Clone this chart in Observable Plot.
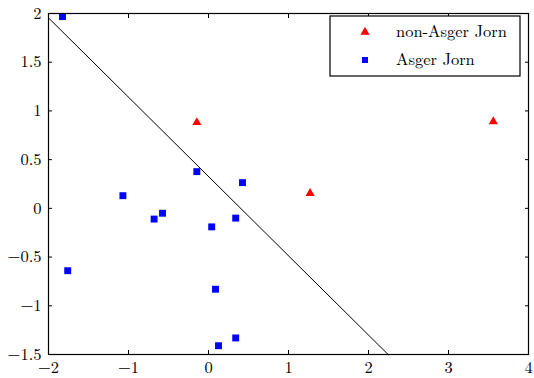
<!DOCTYPE html>
<html><head><meta charset="utf-8">
<script src="https://cdn.jsdelivr.net/npm/d3@7"></script>
<script src="https://cdn.jsdelivr.net/npm/@observablehq/plot@0.6"></script>
<style>
body{margin:0;background:#fff;}
#wrap{position:relative;width:534px;height:378px;}
#wrap svg text{font-family:'Latin Modern Roman','Liberation Serif',serif;}
</style></head><body><div id="wrap"></div>
<script>
const xTicks = [-2, -1, 0, 1, 2, 3, 4];
const xTickLabels = ["−2", "−1", "0", "1", "2", "3", "4"];
const yTicks = [-1.5, -1, -0.5, 0, 0.5, 1, 1.5, 2];
const yTickLabels = ["−1.5", "−1", "−0.5", "0", "0.5", "1", "1.5", "2"];

const seriesNames = ["non-Asger Jorn", "Asger Jorn"];
const seriesColors = ["#ff0000", "#0000ff"];

const jornX = [-1.825, -1.07, -0.68, -0.575, 0.04, 0.34, -0.146, 0.425, -1.76, 0.0875, 0.125, 0.34];
const jornY = [1.968, 0.13, -0.11, -0.05, -0.19, -0.10, 0.377, 0.264, -0.64, -0.83, -1.41, -1.33];
const nonJornX = [-0.146, 3.56, 1.27];
const nonJornY = [0.882, 0.89, 0.155];

const lineX = [-2, 2.245];
const lineY = [1.955, -1.5];

const jorn = jornX.map((x, i) => ({x, y: jornY[i]}));
const nonJorn = nonJornX.map((x, i) => ({x, y: nonJornY[i]}));
const boundary = lineX.map((x, i) => ({x, y: lineY[i]}));

const chart = Plot.plot({
  width: 534, height: 378,
  marginLeft: 48, marginRight: 6, marginTop: 13, marginBottom: 24,
  style: {fontSize: "16.5px", color: "#000", background: "#fff"},
  x: {domain: [-2, 4], label: null},
  y: {domain: [-1.5, 2], label: null},
  marks: [
    Plot.line(boundary, {x: "x", y: "y", stroke: "#000", strokeWidth: 1}),
    Plot.dot(nonJorn, {x: "x", y: "y", symbol: "triangle", r: 3.4, fill: seriesColors[0], stroke: "none"}),
    Plot.dot(jorn, {x: "x", y: "y", symbol: "square", r: 3.9, fill: seriesColors[1], stroke: "none"}),
    Plot.axisX(xTicks, {anchor: "bottom", tickSize: -4, tickPadding: 11, label: null,
      tickFormat: d => xTickLabels[xTicks.indexOf(d)]}),
    Plot.axisX(xTicks, {anchor: "top", tickSize: -4, label: null, tickFormat: () => ""}),
    Plot.axisY(yTicks, {anchor: "left", tickSize: -4, tickPadding: 11, label: null,
      tickFormat: d => yTickLabels[yTicks.indexOf(d)]}),
    Plot.axisY(yTicks, {anchor: "right", tickSize: -4, label: null, tickFormat: () => ""}),
    Plot.frame({stroke: "#000", strokeWidth: 1.2})
  ]
});
document.getElementById("wrap").appendChild(chart);

// legend inside the plot area (upper right)
const svg = d3.select(chart);
const lg = svg.append("g").attr("font-size", 16.5).attr("text-anchor", "start");
lg.append("rect").attr("x", 330).attr("y", 16).attr("width", 190).attr("height", 60)
  .attr("fill", "#fff").attr("stroke", "#000").attr("stroke-width", 1.2);
const rows = [32, 60];
seriesNames.forEach((name, i) => {
  const sym = i === 0 ? d3.symbolTriangle : d3.symbolSquare;
  const size = i === 0 ? Math.PI * 3.4 * 3.4 : 36;
  lg.append("path").attr("d", d3.symbol(sym, size)()).attr("transform", `translate(365,${rows[i]})`)
    .attr("fill", seriesColors[i]);
  lg.append("text").attr("x", 396).attr("y", rows[i] + 4.5).attr("fill", "#000")
    .attr("text-anchor", "start").text(name);
});
</script></body></html>
